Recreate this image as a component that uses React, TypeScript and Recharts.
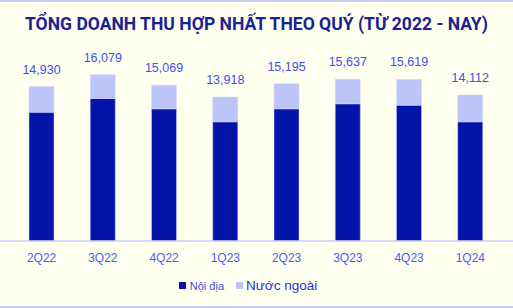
import { BarChart, Bar, XAxis, YAxis, LabelList } from 'recharts'

const quarters = ['2Q22', '3Q22', '4Q22', '1Q23', '2Q23', '3Q23', '4Q23', '1Q24']
const totals = [14930, 16079, 15069, 13918, 15195, 15637, 15619, 14112]
const domestic = [12445, 13770, 12775, 11520, 12775, 13260, 13125, 11520]
const foreign = [2485, 2309, 2294, 2398, 2420, 2377, 2494, 2592]

const TITLE = 'TỔNG DOANH THU HỢP NHẤT THEO QUÝ (TỪ 2022 - NAY)'
const DARK = '#0414a8'
const LIGHT = '#bcc4fa'

const data = quarters.map((q, i) => ({
  q,
  domestic: domestic[i],
  foreign: foreign[i],
  total: totals[i],
}))

const fmt = (v: number) => v.toLocaleString('en-US')

function LegendBox() {
  return (
    <div
      style={{
        display: 'flex',
        alignItems: 'center',
        justifyContent: 'center',
        fontFamily: 'Arimo, "Liberation Sans", Arial, sans-serif',
        paddingRight: 17,
      }}
    >
      <span style={{ width: 7, height: 7, background: DARK, marginRight: 4 }} />
      <span style={{ fontSize: 11, color: '#3a4ee0', marginRight: 12 }}>Nội địa</span>
      <span style={{ width: 7, height: 7, background: LIGHT, marginRight: 3 }} />
      <span style={{ fontSize: 13.5, color: '#2233d8' }}>Nước ngoài</span>
    </div>
  )
}

export default function App() {
  return (
    <div
      style={{
        position: 'relative',
        width: 513,
        height: 308,
        background: '#fffff0',
        boxSizing: 'border-box',
        borderTop: '2px solid #c8cdf5',
        borderBottom: '2px solid #c8cdf5',
        overflow: 'hidden',
      }}
    >
      <style>{'body{margin:0}'}</style>
      <svg width={513} height={40} style={{ position: 'absolute', left: 0, top: -2 }}>
        <text
          x={25}
          y={30}
          fontFamily="Roboto, sans-serif"
          fontWeight={700}
          fontSize={18.5}
          fill="#1b2392"
          textLength={463}
          lengthAdjust="spacingAndGlyphs"
        >
          {TITLE}
        </text>
      </svg>
      <div style={{ position: 'absolute', left: 0, top: -2 }}>
        <BarChart
          width={513}
          height={308}
          data={data}
          margin={{ top: 33, right: 0, left: 0, bottom: 0 }}
        >
          <XAxis
            dataKey="q"
            padding={{ left: 11, right: 12 }}
            axisLine={{ stroke: '#c8cdf5', strokeWidth: 1.5 }}
            tickLine={false}
            tickMargin={6}
            height={67}
            tick={{ fill: '#4c5cf0', fontSize: 12, fontFamily: 'Arimo, "Liberation Sans", Arial, sans-serif' }}
          />
          <YAxis hide domain={[0, 20100]} />
          <Bar dataKey="domestic" stackId="a" fill={DARK} barSize={25} stroke="#c6ccf8" strokeWidth={0.5} isAnimationActive={false} />
          <Bar dataKey="foreign" stackId="a" fill={LIGHT} barSize={25} stroke="#d6daf9" strokeWidth={0.5} isAnimationActive={false}>
            <LabelList
              dataKey="total"
              position="top"
              offset={13}
              formatter={(v: any) => fmt(Number(v))}
              fill="#3e50e8"
              fontSize={12.5}
              fontFamily='Arimo, "Liberation Sans", Arial, sans-serif'
            />
          </Bar>
        </BarChart>
      </div>
      <div style={{ position: 'absolute', left: 0, width: 513, top: 276 }}>
        <LegendBox />
      </div>
    </div>
  )
}
